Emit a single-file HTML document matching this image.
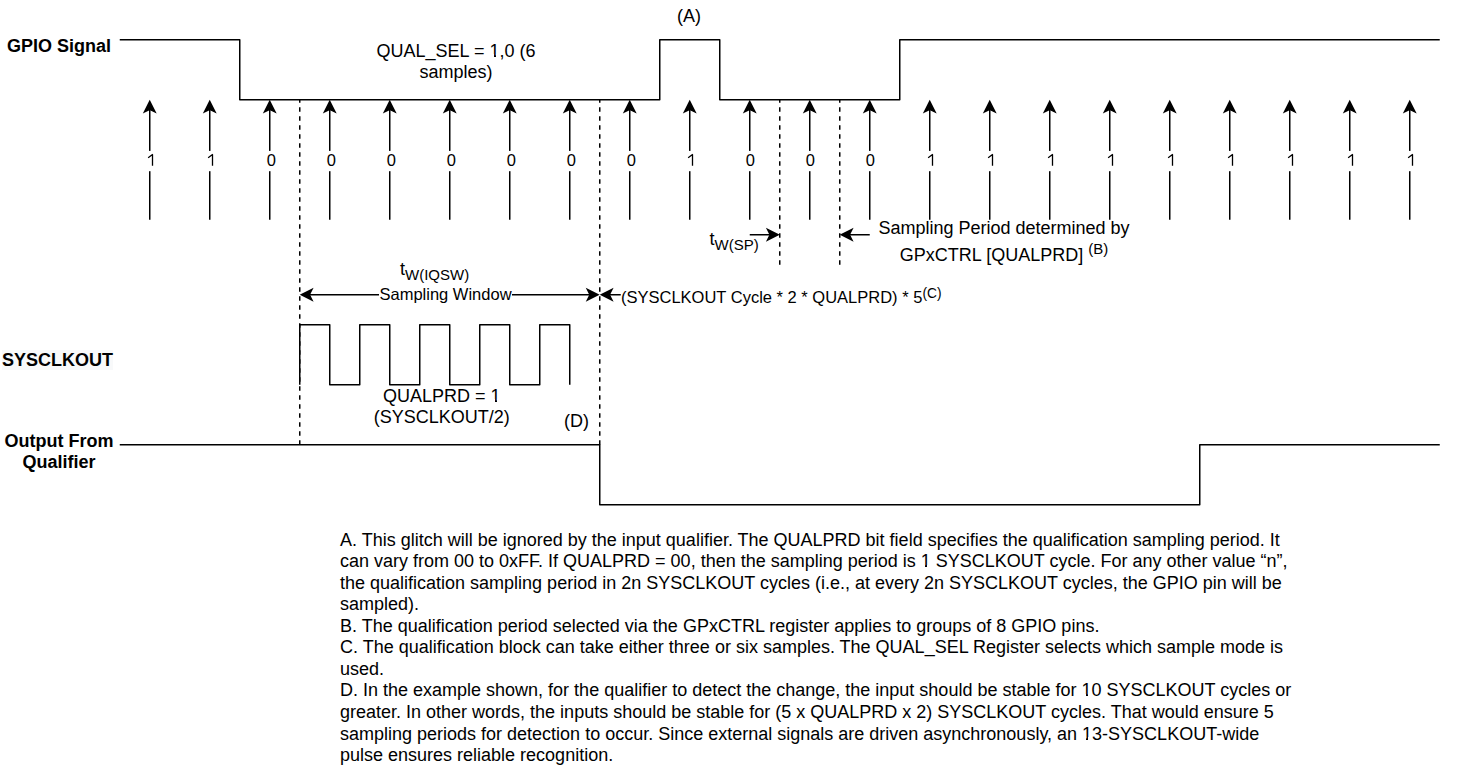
<!DOCTYPE html>
<html><head><meta charset="utf-8"><style>
html,body{margin:0;padding:0;background:#fff;}
body{width:1462px;height:771px;overflow:hidden;position:relative;font-family:"Liberation Sans",sans-serif;color:#000;}
svg{position:absolute;left:0;top:0;}
.w{fill:none;stroke:#000;stroke-width:1.5;stroke-linejoin:round;}
.d{fill:none;stroke:#000;stroke-width:1.5;stroke-dasharray:4.5 4.5;}
.one{fill:none;stroke:#000;stroke-width:1.3;}
.ah{fill:#000;stroke:#000;stroke-width:1.5;stroke-miterlimit:10;}
.t{position:absolute;white-space:nowrap;font-size:18px;line-height:21.6px;}
.c{text-align:center;}
.b{font-weight:bold;}
.lb{position:absolute;width:40px;text-align:center;font-size:16.5px;line-height:19.8px;}
.o1{position:relative}
.o1::before{content:"";position:absolute;left:0.3px;width:3.9px;bottom:3.2px;height:3.2px;background:#fff}
.o1::after{content:"";position:absolute;left:6.1px;width:4.1px;bottom:3.2px;height:3.2px;background:#fff}
sub,sup{font-size:15px;line-height:0;}
.notes{position:absolute;left:340px;top:529.5px;font-size:18px;line-height:21.56px;white-space:nowrap;}
</style></head><body>
<svg width="1462" height="771" viewBox="0 0 1462 771">
<path class="w" d="M119.75,39.75 L239.75,39.75 L239.75,99.75 L659.75,99.75 L659.75,39.75 L719.75,39.75 L719.75,99.75 L899.75,99.75 L899.75,39.75 L1439.75,39.75"/>
<path class="w" d="M119.75,444.75 L599.75,444.75 L599.75,504.75 L1199.75,504.75 L1199.75,444.75 L1439.75,444.75"/>
<path class="w" d="M299.75,384.75 L299.75,324.75 L329.75,324.75 L329.75,384.75 L359.75,384.75 L359.75,324.75 L389.75,324.75 L389.75,384.75 L419.75,384.75 L419.75,324.75 L449.75,324.75 L449.75,384.75 L479.75,384.75 L479.75,324.75 L509.75,324.75 L509.75,384.75 L539.75,384.75 L539.75,324.75 L569.75,324.75 L569.75,384.75"/>
<path class="d" d="M299.75,444.75 L299.75,99.75"/>
<path class="d" d="M599.75,444.75 L599.75,99.75"/>
<path class="d" d="M779.75,264.75 L779.75,99.75"/>
<path class="d" d="M839.75,264.75 L839.75,99.75"/>
<path class="w" d="M149.75,219.75 L149.75,106"/>
<path d="M149.75,101.427 L144.50,111.927 L149.75,109.302 L155.00,111.927 Z" class="ah"/>
<path class="w" d="M209.75,219.75 L209.75,106"/>
<path d="M209.75,101.427 L204.50,111.927 L209.75,109.302 L215.00,111.927 Z" class="ah"/>
<path class="w" d="M269.75,219.75 L269.75,106"/>
<path d="M269.75,101.427 L264.50,111.927 L269.75,109.302 L275.00,111.927 Z" class="ah"/>
<path class="w" d="M329.75,219.75 L329.75,106"/>
<path d="M329.75,101.427 L324.50,111.927 L329.75,109.302 L335.00,111.927 Z" class="ah"/>
<path class="w" d="M389.75,219.75 L389.75,106"/>
<path d="M389.75,101.427 L384.50,111.927 L389.75,109.302 L395.00,111.927 Z" class="ah"/>
<path class="w" d="M449.75,219.75 L449.75,106"/>
<path d="M449.75,101.427 L444.50,111.927 L449.75,109.302 L455.00,111.927 Z" class="ah"/>
<path class="w" d="M509.75,219.75 L509.75,106"/>
<path d="M509.75,101.427 L504.50,111.927 L509.75,109.302 L515.00,111.927 Z" class="ah"/>
<path class="w" d="M569.75,219.75 L569.75,106"/>
<path d="M569.75,101.427 L564.50,111.927 L569.75,109.302 L575.00,111.927 Z" class="ah"/>
<path class="w" d="M629.75,219.75 L629.75,106"/>
<path d="M629.75,101.427 L624.50,111.927 L629.75,109.302 L635.00,111.927 Z" class="ah"/>
<path class="w" d="M689.75,219.75 L689.75,106"/>
<path d="M689.75,101.427 L684.50,111.927 L689.75,109.302 L695.00,111.927 Z" class="ah"/>
<path class="w" d="M749.75,219.75 L749.75,106"/>
<path d="M749.75,101.427 L744.50,111.927 L749.75,109.302 L755.00,111.927 Z" class="ah"/>
<path class="w" d="M809.75,219.75 L809.75,106"/>
<path d="M809.75,101.427 L804.50,111.927 L809.75,109.302 L815.00,111.927 Z" class="ah"/>
<path class="w" d="M869.75,219.75 L869.75,106"/>
<path d="M869.75,101.427 L864.50,111.927 L869.75,109.302 L875.00,111.927 Z" class="ah"/>
<path class="w" d="M929.75,219.75 L929.75,106"/>
<path d="M929.75,101.427 L924.50,111.927 L929.75,109.302 L935.00,111.927 Z" class="ah"/>
<path class="w" d="M989.75,219.75 L989.75,106"/>
<path d="M989.75,101.427 L984.50,111.927 L989.75,109.302 L995.00,111.927 Z" class="ah"/>
<path class="w" d="M1049.75,219.75 L1049.75,106"/>
<path d="M1049.75,101.427 L1044.50,111.927 L1049.75,109.302 L1055.00,111.927 Z" class="ah"/>
<path class="w" d="M1109.75,219.75 L1109.75,106"/>
<path d="M1109.75,101.427 L1104.50,111.927 L1109.75,109.302 L1115.00,111.927 Z" class="ah"/>
<path class="w" d="M1169.75,219.75 L1169.75,106"/>
<path d="M1169.75,101.427 L1164.50,111.927 L1169.75,109.302 L1175.00,111.927 Z" class="ah"/>
<path class="w" d="M1229.75,219.75 L1229.75,106"/>
<path d="M1229.75,101.427 L1224.50,111.927 L1229.75,109.302 L1235.00,111.927 Z" class="ah"/>
<path class="w" d="M1289.75,219.75 L1289.75,106"/>
<path d="M1289.75,101.427 L1284.50,111.927 L1289.75,109.302 L1295.00,111.927 Z" class="ah"/>
<path class="w" d="M1349.75,219.75 L1349.75,106"/>
<path d="M1349.75,101.427 L1344.50,111.927 L1349.75,109.302 L1355.00,111.927 Z" class="ah"/>
<path class="w" d="M1409.75,219.75 L1409.75,106"/>
<path d="M1409.75,101.427 L1404.50,111.927 L1409.75,109.302 L1415.00,111.927 Z" class="ah"/>
<rect x="144.75" y="150.9" width="10" height="20.3" fill="#fff"/>
<path class="one" d="M152.50,154.2 L152.50,165.8 M152.85,154.3 L148.15,157.8"/>
<rect x="204.75" y="150.9" width="10" height="20.3" fill="#fff"/>
<path class="one" d="M212.50,154.2 L212.50,165.8 M212.85,154.3 L208.15,157.8"/>
<rect x="264.75" y="150.9" width="10" height="20.3" fill="#fff"/>
<rect x="324.75" y="150.9" width="10" height="20.3" fill="#fff"/>
<rect x="384.75" y="150.9" width="10" height="20.3" fill="#fff"/>
<rect x="444.75" y="150.9" width="10" height="20.3" fill="#fff"/>
<rect x="504.75" y="150.9" width="10" height="20.3" fill="#fff"/>
<rect x="564.75" y="150.9" width="10" height="20.3" fill="#fff"/>
<rect x="624.75" y="150.9" width="10" height="20.3" fill="#fff"/>
<rect x="684.75" y="150.9" width="10" height="20.3" fill="#fff"/>
<path class="one" d="M692.50,154.2 L692.50,165.8 M692.85,154.3 L688.15,157.8"/>
<rect x="744.75" y="150.9" width="10" height="20.3" fill="#fff"/>
<rect x="804.75" y="150.9" width="10" height="20.3" fill="#fff"/>
<rect x="864.75" y="150.9" width="10" height="20.3" fill="#fff"/>
<rect x="924.75" y="150.9" width="10" height="20.3" fill="#fff"/>
<path class="one" d="M932.50,154.2 L932.50,165.8 M932.85,154.3 L928.15,157.8"/>
<rect x="984.75" y="150.9" width="10" height="20.3" fill="#fff"/>
<path class="one" d="M992.50,154.2 L992.50,165.8 M992.85,154.3 L988.15,157.8"/>
<rect x="1044.75" y="150.9" width="10" height="20.3" fill="#fff"/>
<path class="one" d="M1052.50,154.2 L1052.50,165.8 M1052.85,154.3 L1048.15,157.8"/>
<rect x="1104.75" y="150.9" width="10" height="20.3" fill="#fff"/>
<path class="one" d="M1112.50,154.2 L1112.50,165.8 M1112.85,154.3 L1108.15,157.8"/>
<rect x="1164.75" y="150.9" width="10" height="20.3" fill="#fff"/>
<path class="one" d="M1172.50,154.2 L1172.50,165.8 M1172.85,154.3 L1168.15,157.8"/>
<rect x="1224.75" y="150.9" width="10" height="20.3" fill="#fff"/>
<path class="one" d="M1232.50,154.2 L1232.50,165.8 M1232.85,154.3 L1228.15,157.8"/>
<rect x="1284.75" y="150.9" width="10" height="20.3" fill="#fff"/>
<path class="one" d="M1292.50,154.2 L1292.50,165.8 M1292.85,154.3 L1288.15,157.8"/>
<rect x="1344.75" y="150.9" width="10" height="20.3" fill="#fff"/>
<path class="one" d="M1352.50,154.2 L1352.50,165.8 M1352.85,154.3 L1348.15,157.8"/>
<rect x="1404.75" y="150.9" width="10" height="20.3" fill="#fff"/>
<path class="one" d="M1412.50,154.2 L1412.50,165.8 M1412.85,154.3 L1408.15,157.8"/>
<path class="w" d="M749.75,234.75 L773,234.75"/>
<path d="M778.073,234.75 L767.573,229.50 L770.198,234.75 L767.573,240.00 Z" class="ah"/>
<path class="w" d="M869.75,234.75 L846,234.75"/>
<path d="M841.427,234.75 L851.927,229.50 L849.302,234.75 L851.927,240.00 Z" class="ah"/>
<path class="w" d="M306,294.75 L593,294.75"/>
<path d="M301.427,294.75 L311.927,289.50 L309.302,294.75 L311.927,300.00 Z" class="ah"/>
<path d="M597.923,294.75 L587.423,289.50 L590.048,294.75 L587.423,300.00 Z" class="ah"/>
<path class="w" d="M620.75,294.75 L606,294.75"/>
<path d="M601.427,294.75 L611.927,289.50 L609.302,294.75 L611.927,300.00 Z" class="ah"/>
</svg>
<div class="lb" style="left:251.25px;top:150.90px">0</div>
<div class="lb" style="left:311.25px;top:150.90px">0</div>
<div class="lb" style="left:371.25px;top:150.90px">0</div>
<div class="lb" style="left:431.25px;top:150.90px">0</div>
<div class="lb" style="left:491.25px;top:150.90px">0</div>
<div class="lb" style="left:551.25px;top:150.90px">0</div>
<div class="lb" style="left:611.25px;top:150.90px">0</div>
<div class="lb" style="left:730.25px;top:150.90px">0</div>
<div class="lb" style="left:790.25px;top:150.90px">0</div>
<div class="lb" style="left:850.25px;top:150.90px">0</div>
<div class="t c b" style="left:0;width:118px;top:35.7px">GPIO Signal</div>
<div class="t c" style="left:356px;width:200px;top:40.7px">QUAL<span style="position:relative;top:-1px">_</span>SEL = <span class="o1">1</span>,0 (6<br>samples)</div>
<div class="t c" style="left:659px;width:60px;top:6px">(A)</div>
<div class="t" style="left:709.5px;top:228.5px">t<sub>W(SP)</sub></div>
<div class="t c" style="left:804px;width:400px;top:217.6px">Sampling Period determined by</div>
<div class="t c" style="left:804px;width:400px;top:245.2px">GPxCTRL [QUALPRD] <sup>(B)</sup></div>
<div class="t" style="left:400px;top:258.5px">t<sub>W(IQSW)</sub></div>
<div class="t" style="left:378.5px;top:284.7px;font-size:16.5px;line-height:19.8px;background:#fff;padding:0 0 0 1px">Sampling Window</div>
<div class="t" style="left:621px;top:288.2px;font-size:16.5px;line-height:19.8px;background:#fff">(SYSCLKOUT Cycle * 2 * QUALPRD) * 5<sup style="font-size:13.75px;position:relative;top:1px">(C)</sup></div>
<div class="t b" style="left:2px;top:349.5px;line-height:20px"><span style="background:#f8f9fa">SYSCLKOUT</span></div>
<div class="t c" style="left:341.7px;width:200px;top:385.5px">QUALPRD = <span class="o1">1</span><br>(SYSCLKOUT/2)</div>
<div class="t" style="left:564px;top:411.2px">(D)</div>
<div class="t c b" style="left:0;width:118px;top:430.8px">Output From<br>Qualifier</div>
<div class="notes">A. This glitch will be ignored by the input qualifier. The QUALPRD bit field specifies the qualification sampling period. It<br>
can vary from 00 to 0xFF. If QUALPRD = 00, then the sampling period is <span class="o1">1</span> SYSCLKOUT cycle. For any other value “n”,<br>
the qualification sampling period in 2n SYSCLKOUT cycles (i.e., at every 2n SYSCLKOUT cycles, the GPIO pin will be<br>
sampled).<br>
B. The qualification period selected via the GPxCTRL register applies to groups of 8 GPIO pins.<br>
C. The qualification block can take either three or six samples. The QUAL<span style="position:relative;top:-1px">_</span>SEL Register selects which sample mode is<br>
used.<br>
D. In the example shown, for the qualifier to detect the change, the input should be stable for <span class="o1">1</span>0 SYSCLKOUT cycles or<br>
greater. In other words, the inputs should be stable for (5 x QUALPRD x 2) SYSCLKOUT cycles. That would ensure 5<br>
sampling periods for detection to occur. Since external signals are driven asynchronously, an <span class="o1">1</span>3-SYSCLKOUT-wide<br>
pulse ensures reliable recognition.</div>
</body></html>
